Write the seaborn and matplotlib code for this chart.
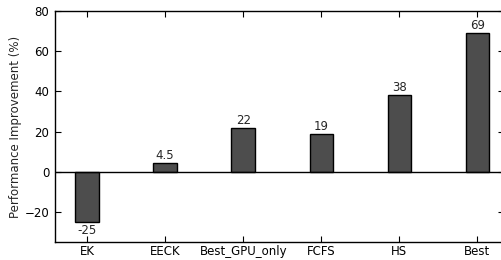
import matplotlib
matplotlib.use("Agg")
import matplotlib.pyplot as plt
import seaborn as sns
import pandas as pd

categories = ["EK", "EECK", "Best_GPU_only", "FCFS", "HS", "Best"]
values = [-25, 4.5, 22, 19, 38, 69]
labels = ["-25", "4.5", "22", "19", "38", "69"]
yticks = [-20, 0, 20, 40, 60, 80]

sns.set_style("white")
plt.rcParams['font.family'] = ['DejaVu Sans']

df = pd.DataFrame({"cat": categories, "val": values})

fig = plt.figure(figsize=(5.01, 2.60), dpi=100)
W, H = 501, 260
left, right, top, bottom = 55, 504, 11, 242
ax = fig.add_axes([left / W, 1 - bottom / H, (right - left) / W, (bottom - top) / H])

sns.barplot(data=df, x="cat", y="val", ax=ax, color="#4d4d4d", saturation=1,
            edgecolor="black", linewidth=1, width=0.3, zorder=2)

ax.set_xlim(-0.41, 5.34)
ax.set_ylim(-35, 80)
ax.set_yticks(yticks)
ax.axhline(0, color="black", lw=1, zorder=3)

for i, (v, lab) in enumerate(zip(values, labels)):
    if v < 0:
        ax.text(i, v - 1, lab, ha="center", va="top", fontsize=8.5)
    else:
        ax.text(i, v + 0.5, lab, ha="center", va="bottom", fontsize=8.5)

ax.set_xlabel("")
ax.set_ylabel("Performance Improvement (%)", fontsize=8.5, labelpad=2)
ax.tick_params(axis="both", direction="in", length=4, width=0.8, labelsize=8.5,
               top=True, right=True, bottom=True, left=True, colors="black")
ax.tick_params(axis="x", pad=2)
ax.tick_params(axis="y", pad=4)
for s in ax.spines.values():
    s.set_visible(True)
    s.set_color("black")
    s.set_linewidth(1)

fig.savefig("out.png", dpi=100)
